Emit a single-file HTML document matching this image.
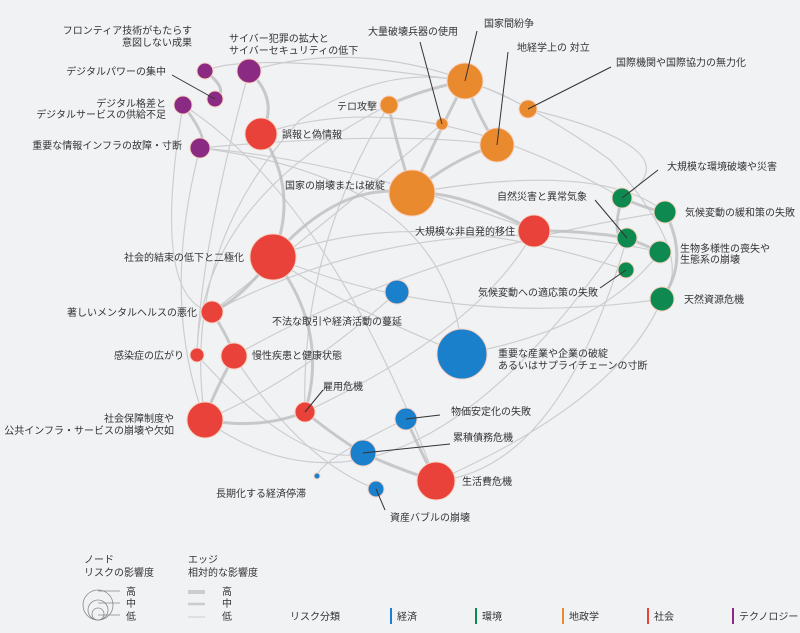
<!DOCTYPE html><html><head><meta charset="utf-8"><style>
html,body{margin:0;padding:0;background:#f1f2f4}
svg{display:block}
text{font-family:"Liberation Sans","Noto Sans CJK JP",sans-serif;font-size:10px;fill:#333}
</style></head><body>
<svg width="800" height="633" viewBox="0 0 800 633">
<rect width="800" height="633" fill="#f1f2f4"/>
<g fill="none" stroke="#c9cacc" stroke-width="1.2" opacity="0.9">
<path d="M249,71 Q420,20 610,160 Q700,260 660,300"/>
<path d="M205,71 Q250,50 465,81"/>
<path d="M200,148 Q160,300 205,420"/>
<path d="M183,105 Q150,300 212,312"/>
<path d="M249,71 Q200,250 197,355"/>
<path d="M261,134 Q420,80 622,198"/>
<path d="M200,148 Q350,160 534,231"/>
<path d="M273,257 Q450,330 662,299"/>
<path d="M273,257 Q420,200 626,270"/>
<path d="M205,420 Q400,560 620,240"/>
<path d="M212,312 Q430,200 660,252"/>
<path d="M305,412 Q480,330 534,231"/>
<path d="M234,356 Q420,250 665,212"/>
<path d="M436,481 Q620,400 662,299"/>
<path d="M197,355 Q300,470 363,453"/>
<path d="M412,193 Q600,160 665,212"/>
<path d="M389,105 Q300,250 305,412"/>
<path d="M442,124 Q330,220 212,312"/>
<path d="M528,109 Q700,150 622,198"/>
<path d="M462,354 Q330,300 273,257"/>
<path d="M397,292 Q300,380 205,420"/>
<path d="M406,419 Q320,460 317,476"/>
<path d="M200,148 Q450,180 462,354"/>
<path d="M183,105 Q330,200 436,481"/>
<path d="M205,420 Q180,250 300,120 Q420,40 528,109"/>
<path d="M197,355 Q200,200 389,105"/>
<path d="M234,356 Q300,460 376,489"/>
<path d="M436,481 Q560,470 627,238"/>
<path d="M462,354 Q600,330 660,252"/>
<path d="M200,148 Q400,130 497,145"/>
</g>
<g fill="none" stroke="#bdbec0" stroke-width="3" opacity="0.8">
<path d="M249,71 Q280,100 261,134"/>
<path d="M261,134 Q300,190 273,257"/>
<path d="M273,257 Q340,180 412,193"/>
<path d="M465,81 Q430,150 412,193"/>
<path d="M497,145 Q450,160 412,193"/>
<path d="M465,81 Q480,120 497,145"/>
<path d="M273,257 Q240,300 212,312"/>
<path d="M212,312 Q230,340 234,356"/>
<path d="M234,356 Q210,400 205,420"/>
<path d="M305,412 Q340,440 363,453"/>
<path d="M363,453 Q400,470 436,481"/>
<path d="M406,419 Q420,450 436,481"/>
<path d="M622,198 Q650,210 665,212"/>
<path d="M627,238 Q645,245 660,252"/>
<path d="M665,212 Q690,260 662,299"/>
<path d="M622,198 Q610,240 627,238"/>
<path d="M534,231 Q460,190 412,193"/>
<path d="M534,231 Q580,230 627,238"/>
<path d="M205,420 Q260,430 305,412"/>
<path d="M389,105 Q420,90 465,81"/>
<path d="M183,105 Q210,140 200,148"/>
<path d="M205,71 Q230,90 215,99"/>
<path d="M273,257 Q330,330 305,412"/>
<path d="M412,193 Q390,120 389,105"/>
</g>
<g stroke="#f7d0c0" stroke-width="1">
<circle cx="205" cy="71" r="8" fill="#8b2a83"/><circle cx="249" cy="71" r="12" fill="#8b2a83"/>
<circle cx="215" cy="99" r="8" fill="#8b2a83"/><circle cx="183" cy="105" r="9" fill="#8b2a83"/>
<circle cx="200" cy="148" r="10" fill="#8b2a83"/>
<circle cx="261" cy="134" r="16" fill="#e8423a"/><circle cx="273" cy="257" r="23" fill="#e8423a"/>
<circle cx="212" cy="312" r="11" fill="#e8423a"/><circle cx="197" cy="355" r="7" fill="#e8423a"/>
<circle cx="234" cy="356" r="13" fill="#e8423a"/><circle cx="205" cy="420" r="18" fill="#e8423a"/>
<circle cx="305" cy="412" r="10" fill="#e8423a"/><circle cx="436" cy="481" r="19" fill="#e8423a"/>
<circle cx="534" cy="231" r="16" fill="#e8423a"/>
<circle cx="465" cy="81" r="18" fill="#ea8a2e"/><circle cx="389" cy="105" r="9" fill="#ea8a2e"/>
<circle cx="442" cy="124" r="6" fill="#ea8a2e"/><circle cx="497" cy="145" r="17" fill="#ea8a2e"/>
<circle cx="528" cy="109" r="9" fill="#ea8a2e"/><circle cx="412" cy="193" r="23" fill="#ea8a2e"/>
<circle cx="397" cy="292" r="12" fill="#1a80cc"/><circle cx="462" cy="354" r="25" fill="#1a80cc"/>
<circle cx="406" cy="419" r="11" fill="#1a80cc"/><circle cx="363" cy="453" r="13" fill="#1a80cc"/>
<circle cx="376" cy="489" r="8" fill="#1a80cc"/><circle cx="317" cy="476" r="3" fill="#1a80cc"/>
<circle cx="622" cy="198" r="10" fill="#0e8a50"/><circle cx="665" cy="212" r="11" fill="#0e8a50"/>
<circle cx="627" cy="238" r="10" fill="#0e8a50"/><circle cx="660" cy="252" r="11" fill="#0e8a50"/>
<circle cx="626" cy="270" r="8" fill="#0e8a50"/><circle cx="662" cy="299" r="12" fill="#0e8a50"/>
</g>
<g stroke="#333" stroke-width="1" fill="none">
<path d="M172,75 L215,99"/><path d="M420,42 L442,124"/><path d="M477,31 L465,81"/>
<path d="M508,52 L497,145"/><path d="M611,67 L528,109"/><path d="M658,170 L622,198"/>
<path d="M595,200 L627,238"/><path d="M600,288 L626,270"/><path d="M323,390 L305,412"/>
<path d="M440,415 L406,419"/><path d="M450,444 L363,453"/><path d="M385,510 L376,489"/>
</g>
<g text-anchor="end">
<text x="192" y="34">フロンティア技術がもたらす</text><text x="192" y="46">意図しない成果</text>
<text x="166" y="75">デジタルパワーの集中</text>
<text x="166" y="107">デジタル格差と</text><text x="166" y="118">デジタルサービスの供給不足</text>
<text x="182" y="149">重要な情報インフラの故障・寸断</text>
<text x="244" y="261">社会的結束の低下と二極化</text>
<text x="197" y="316">著しいメンタルヘルスの悪化</text>
<text x="184" y="359">感染症の広がり</text>
<text x="174" y="422">社会保障制度や</text><text x="174" y="434">公共インフラ・サービスの崩壊や欠如</text>
<text x="377" y="110">テロ攻撃</text>
<text x="385" y="189">国家の崩壊または破綻</text>
<text x="515" y="235">大規模な非自発的移住</text>
<text x="598" y="296">気候変動への適応策の失敗</text>
<text x="306" y="497">長期化する経済停滞</text>
</g>
<text x="229" y="42">サイバー犯罪の拡大と</text><text x="229" y="54">サイバーセキュリティの低下</text>
<text x="282" y="138">誤報と偽情報</text>
<text x="368" y="35">大量破壊兵器の使用</text>
<text x="484" y="27">国家間紛争</text>
<text x="517" y="51">地経学上の 対立</text>
<text x="616" y="66">国際機関や国際協力の無力化</text>
<text x="667" y="170">大規模な環境破壊や災害</text>
<text x="497" y="200">自然災害と異常気象</text>
<text x="685" y="216">気候変動の緩和策の失敗</text>
<text x="680" y="252">生物多様性の喪失や</text><text x="680" y="263">生態系の崩壊</text>
<text x="684" y="303">天然資源危機</text>
<text x="272" y="325">不法な取引や経済活動の蔓延</text>
<text x="252" y="359">慢性疾患と健康状態</text>
<text x="498" y="357">重要な産業や企業の破綻</text><text x="498" y="369">あるいはサプライチェーンの寸断</text>
<text x="323" y="390">雇用危機</text>
<text x="451" y="415">物価安定化の失敗</text>
<text x="453" y="441">累積債務危機</text>
<text x="462" y="485">生活費危機</text>
<text x="390" y="521">資産バブルの崩壊</text>
<g style="font-size:9px">
<text x="84" y="563">ノード</text><text x="84" y="576">リスクの影響度</text>
<text x="188" y="563">エッジ</text><text x="188" y="576">相対的な影響度</text>
<text x="126" y="595">高</text><text x="126" y="607">中</text><text x="126" y="620">低</text>
<text x="222" y="595">高</text><text x="222" y="607">中</text><text x="222" y="620">低</text>
<text x="290" y="620">リスク分類</text>
<text x="397" y="620">経済</text><text x="482" y="620">環境</text><text x="569" y="620">地政学</text>
<text x="654" y="620">社会</text><text x="739" y="620">テクノロジー</text>
</g>
<g fill="none" stroke="#888" stroke-width="0.8">
<circle cx="98" cy="605" r="15"/><circle cx="98" cy="610" r="10"/><circle cx="98" cy="614" r="6"/>
<path d="M98,591 H120 M98,603 H120 M98,615 H120"/>
</g>
<g stroke="#ccc"><path d="M188,592 H205" stroke-width="4"/><path d="M188,604 H205" stroke-width="2.5"/><path d="M188,617 H205" stroke-width="1"/></g>
<g stroke-width="2"><path d="M391,608 V624" stroke="#1a80cc"/><path d="M476,608 V624" stroke="#0e8a50"/><path d="M563,608 V624" stroke="#ea8a2e"/><path d="M648,608 V624" stroke="#e8423a"/><path d="M733,608 V624" stroke="#8b2a83"/></g>
</svg>
</body></html>
